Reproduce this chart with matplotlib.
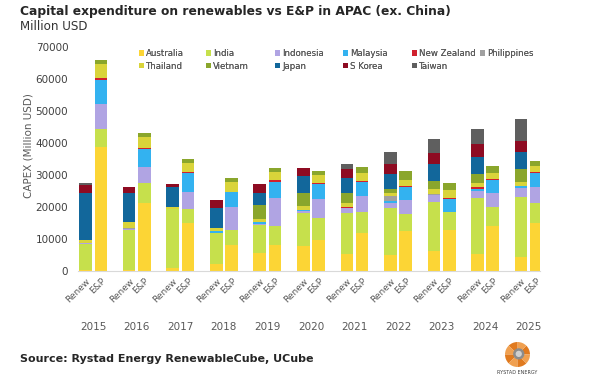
import matplotlib.pyplot as plt
from matplotlib.patches import Wedge, Circle
import numpy as np

years = ["2015", "2016", "2017", "2018", "2019", "2020",
         "2021", "2022", "2023", "2024", "2025"]
countries = ["Australia", "India", "Indonesia", "Malaysia", "New Zealand", "Philippines",
             "Thailand", "Vietnam", "Japan", "S Korea", "Taiwan"]
colors = ["#FCD535", "#C6E04C", "#B0A4E3", "#33B2F0", "#D0202E", "#A0A0A0",
          "#D9D43A", "#8AA62C", "#12679B", "#8E0B22", "#5F5F5F"]

# renewables capex, million USD
renew_australia = [300, 200, 800, 2100, 5500, 7800, 5200, 5000, 6250, 5300, 4500]
renew_india = [8000, 12600, 18700, 9700, 8900, 10400, 13000, 14600, 15400, 17400, 18500]
renew_indonesia = [500, 400, 0, 200, 400, 400, 1400, 1600, 2050, 2400, 3000]
renew_malaysia = [0, 0, 0, 500, 600, 450, 0, 700, 0, 600, 700]
renew_newzealand = [0, 0, 0, 0, 0, 0, 300, 0, 200, 400, 0]
renew_philippines = [0, 300, 0, 0, 0, 0, 200, 1400, 200, 0, 0]
renew_thailand = [1000, 1900, 400, 800, 850, 1250, 1000, 1000, 1650, 1300, 1200]
renew_vietnam = [0, 0, 0, 0, 4350, 4200, 3350, 1200, 2300, 2900, 3900]
renew_japan = [14700, 9100, 6300, 6400, 3900, 5200, 4500, 4800, 5300, 5200, 5500]
renew_skorea = [2500, 1850, 1000, 2400, 2600, 2600, 2800, 3000, 3400, 4200, 3400]
renew_taiwan = [600, 0, 0, 0, 0, 0, 1600, 4000, 4350, 4600, 6700]

# E&P capex, million USD
ep_australia = [38800, 21150, 14900, 8100, 8100, 9700, 11800, 12500, 12800, 14100, 15100]
ep_india = [5500, 6250, 4400, 4700, 6000, 7000, 6700, 5200, 5500, 6000, 6050]
ep_indonesia = [8000, 5200, 5300, 7300, 8600, 5800, 4900, 4500, 0, 4200, 5000]
ep_malaysia = [7500, 5600, 5900, 4500, 5000, 4600, 4300, 3950, 4200, 4100, 4350]
ep_newzealand = [400, 300, 300, 200, 700, 400, 400, 300, 400, 500, 500]
ep_philippines = [0, 0, 0, 0, 0, 0, 0, 0, 0, 0, 0]
ep_thailand = [4400, 3300, 2900, 3100, 2600, 2500, 2400, 1950, 2400, 1800, 1800]
ep_vietnam = [1450, 1400, 1250, 1100, 1300, 1250, 2100, 2850, 2300, 2100, 1700]
ep_japan = [0] * 11
ep_skorea = [0] * 11
ep_taiwan = [0] * 11

renew = [renew_australia, renew_india, renew_indonesia, renew_malaysia, renew_newzealand,
         renew_philippines, renew_thailand, renew_vietnam, renew_japan, renew_skorea, renew_taiwan]
ep = [ep_australia, ep_india, ep_indonesia, ep_malaysia, ep_newzealand,
      ep_philippines, ep_thailand, ep_vietnam, ep_japan, ep_skorea, ep_taiwan]

fig = plt.figure(figsize=(6, 3.81), dpi=100)
ax = fig.add_axes([0.13, 0.2887, 0.77, 0.5879])

x = np.arange(len(years))
off = 0.175
w = 0.29
bot_r = np.zeros(len(years))
bot_e = np.zeros(len(years))
handles = []
for name, c, r, e in zip(countries, colors, renew, ep):
    r = np.array(r, dtype=float)
    e = np.array(e, dtype=float)
    h = ax.bar(x - off, r, w, bottom=bot_r, color=c, linewidth=0, label=name)
    ax.bar(x + off, e, w, bottom=bot_e, color=c, linewidth=0)
    bot_r += r
    bot_e += e
    handles.append(h)

ax.set_xlim(-0.35, 10.26)
ax.set_ylim(0, 70000)
ax.set_yticks(np.arange(0, 70001, 10000))
ax.tick_params(axis="y", length=0, pad=7, labelsize=7.5, labelcolor="#404040")

ticks = np.sort(np.concatenate([x - off, x + off]))
ax.set_xticks(ticks)
ax.set_xticklabels(["Renew", "E&P"] * len(years), rotation=45, ha="right",
                   rotation_mode="anchor", fontsize=6.5, color="#595959")
ax.tick_params(axis="x", length=0, pad=4)

for s in ["top", "right", "left"]:
    ax.spines[s].set_visible(False)
ax.spines["bottom"].set_color("#D9D9D9")

for i, yr in enumerate(years):
    ax.text(i, -0.25, yr, transform=ax.get_xaxis_transform(), ha="center", va="center",
            fontsize=7.5, color="#595959")

fig.text(0.0475, 0.619, "CAPEX (Million USD)", rotation=90, ha="center", va="center",
         fontsize=7.5, color="#595959")

fig.text(0.033, 1 - 11 / 381, "Capital expenditure on renewables vs E&P in APAC (ex. China)",
         fontsize=8.8, fontweight="bold", color="#262626", va="center")
fig.text(0.033, 1 - 26 / 381, "Million USD", fontsize=8.6, color="#333333", va="center")
fig.text(0.033, 1 - 359 / 381, "Source: Rystad Energy RenewableCube, UCube",
         fontsize=8.0, fontweight="bold", color="#262626", va="center")

# legend, laid out as six columns of fixed spacing
col_x = [139, 206, 275, 343, 412, 480]
for j, cx in enumerate(col_x):
    idx = [j] if j + 6 >= len(countries) else [j, j + 6]
    leg = fig.legend([handles[k] for k in idx], [countries[k] for k in idx],
                     loc="upper left", bbox_to_anchor=(cx / 600, 1 - 49 / 381),
                     frameon=False, fontsize=6.2, handlelength=0.55, handleheight=0.55,
                     handletextpad=0.3, labelspacing=0.45, borderpad=0, borderaxespad=0,
                     labelcolor="#595959")
    fig.add_artist(leg)

# small logo
lax = fig.add_axes([505 / 600, 1 - 367 / 381, 25 / 600, 25 / 381])
lax.set_aspect("equal")
lax.axis("off")
lax.set_xlim(-1, 1)
lax.set_ylim(-1, 1)
for k in range(8):
    lax.add_patch(Wedge((0, 0), 1, k * 45, k * 45 + 45,
                        color="#E07A1F" if k % 2 == 0 else "#F0A050", linewidth=0))
lax.add_patch(Circle((0.1, 0.05), 0.45, color="#8C8C8C", linewidth=0))
lax.add_patch(Circle((0.1, 0.05), 0.25, color="#D0D0D0", linewidth=0))
fig.text(517.5 / 600, 1 - 373 / 381, "RYSTAD ENERGY", fontsize=3.5, color="#404040",
         ha="center", va="center")

fig.savefig("out.png", dpi=100)
